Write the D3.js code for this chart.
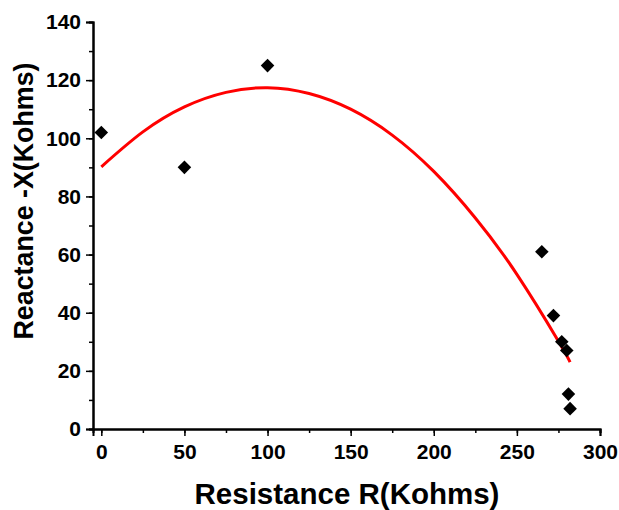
<!DOCTYPE html>
<html><head><meta charset="utf-8">
<script src="https://cdn.jsdelivr.net/npm/d3@7/dist/d3.min.js"></script>
<style>body{margin:0;background:#fff;} svg{display:block;}</style>
</head><body>
<svg id="c" width="619" height="510"></svg>
<script>
const resistance = [0, 50, 100, 265, 272, 277, 280, 281, 282];
const reactance  = [102, 90, 125, 61, 39, 30, 27, 12, 7];
const fitX = [0, 25, 50, 75, 100, 125, 150, 175, 200, 225, 250, 275, 282];
const fitY = [90.2, 102.2, 110.8, 115.8, 117.4, 115.4, 110.0, 101.1, 88.6, 72.6, 53.2, 30.2, 23.0];
const xTicks = [0, 50, 100, 150, 200, 250, 300];
const yTicks = [0, 20, 40, 60, 80, 100, 120, 140];
const xTitle = "Resistance R(Kohms)";
const yTitle = "Reactance -X(Kohms)";

const svg = d3.select("#c");
const x = d3.scaleLinear().domain([-5, 300]).range([93, 600]);
const y = d3.scaleLinear().domain([0, 140]).range([429, 22]);
const font = "'Liberation Sans', Arial, sans-serif";

const gx = svg.append("g").attr("transform", "translate(0,429)");
gx.call(d3.axisBottom(x).tickValues(d3.range(0, 301, 25)).tickSize(4).tickFormat(""));
gx.append("g").call(d3.axisBottom(x).tickValues(xTicks).tickSize(7).tickPadding(8).tickFormat(d3.format("d")));
gx.selectAll("path.domain").attr("stroke-width", 2);
gx.selectAll(".tick line").attr("stroke-width", 1.5);
gx.selectAll("text").attr("font-family", font).attr("font-weight", "bold").attr("font-size", 21).attr("fill", "#000");

const gy = svg.append("g").attr("transform", "translate(93,0)");
gy.call(d3.axisLeft(y).tickValues(d3.range(0, 141, 10)).tickSize(4).tickFormat(""));
gy.append("g").call(d3.axisLeft(y).tickValues(yTicks).tickSize(7).tickPadding(5).tickFormat(d3.format("d")));
gy.selectAll("path.domain").attr("stroke-width", 2);
gy.selectAll(".tick line").attr("stroke-width", 1.5);
gy.selectAll("text").attr("font-family", font).attr("font-weight", "bold").attr("font-size", 21).attr("fill", "#000");

const line = d3.line().x((d,i)=>x(fitX[i])).y((d,i)=>y(fitY[i])).curve(d3.curveNatural);
svg.append("path").datum(fitX).attr("d", line).attr("fill","none").attr("stroke","#ff0000").attr("stroke-width",3);

const sym = d3.symbol().type(d3.symbolSquare).size(92);
svg.selectAll(".pt").data(resistance).join("path")
  .attr("d", sym)
  .attr("transform", (d,i)=>`translate(${x(d)},${y(reactance[i])}) rotate(45)`)
  .attr("fill","#000");

svg.append("text").attr("x", 347).attr("y", 504).attr("text-anchor","middle")
  .attr("font-family", font).attr("font-weight","bold").attr("font-size", 29.5).text(xTitle);
svg.append("text").attr("transform","translate(33,201) rotate(-90)").attr("text-anchor","middle")
  .attr("font-family", font).attr("font-weight","bold").attr("font-size", 26.8).text(yTitle);
</script>
</body></html>
